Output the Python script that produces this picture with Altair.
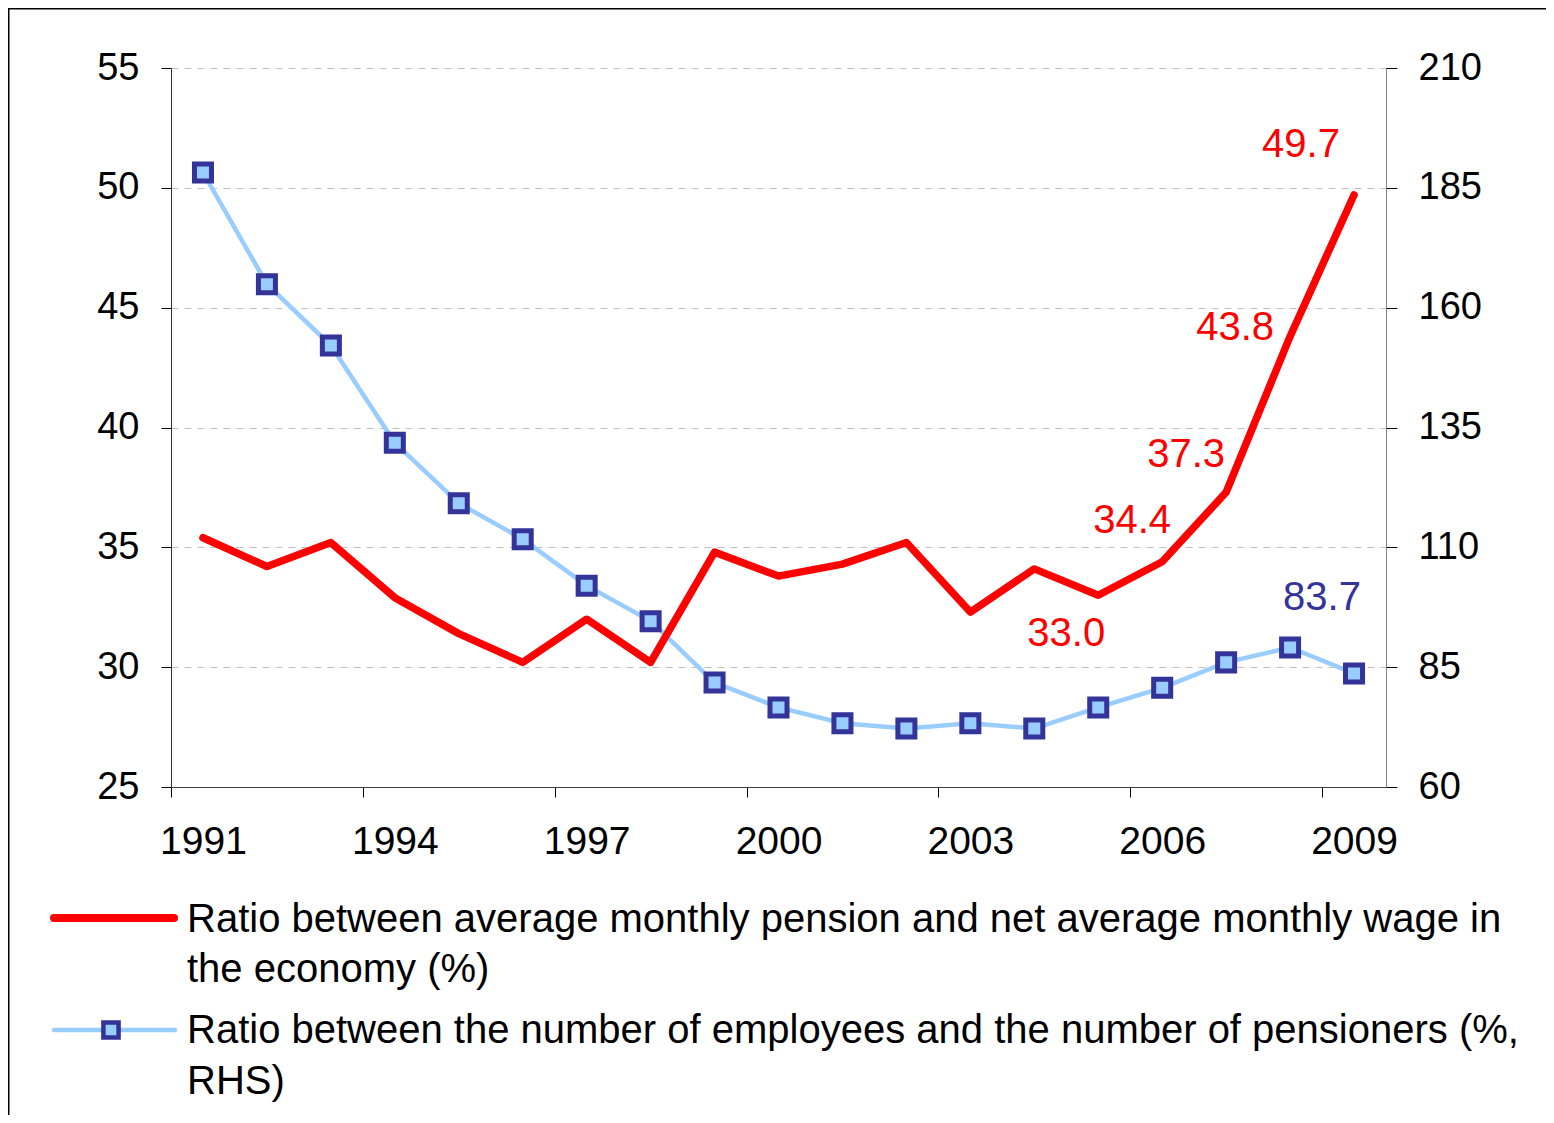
import altair as alt
import pandas as pd

# ---- data ----
years = list(range(1991, 2010))
pension_wage_ratio = [35.4, 34.2, 35.2, 32.9, 31.4, 30.2, 32.0, 30.2, 34.8, 33.8,
                      34.3, 35.2, 32.3, 34.1, 33.0, 34.4, 37.3, 43.8, 49.7]
employees_pensioners_ratio = [188.2, 164.9, 152.1, 131.8, 119.2, 111.7, 102.0, 94.6, 81.8, 76.6,
                              73.3, 72.2, 73.3, 72.2, 76.6, 80.7, 86.0, 89.1, 83.7]
red_label_years = [2005, 2006, 2007, 2008, 2009]
blue_label_years = [2009]
x_tick_years = [1991, 1994, 1997, 2000, 2003, 2006, 2009]
left_ticks = [25, 30, 35, 40, 45, 50, 55]
right_ticks = [60, 85, 110, 135, 160, 185, 210]
legend_red_text = ["Ratio between average monthly pension and net average monthly wage in",
                   "the economy (%)"]
legend_blue_text = ["Ratio between the number of employees and the number of pensioners  (%,",
                    "RHS)"]

# ---- styling ----
FONT = "Liberation Sans"
W, H = 1215, 719
PAD = {"left": 163, "top": 60, "right": 160, "bottom": 328}
RED = "#FF0000"
LIGHT_BLUE = "#99CCFF"
DARK_BLUE = "#333399"
# label offsets (dx, dy) in pixels relative to the data point
red_label_offsets = {2005: (-32, 51), 2006: (-30, -29), 2007: (-40, -25),
                     2008: (-55, 4), 2009: (-53, -38)}
blue_label_offsets = {2009: (-32, -63)}

df = pd.DataFrame({"year": years,
                   "pension": pension_wage_ratio,
                   "employees": employees_pensioners_ratio})

x_enc = alt.X(
    "year:Q",
    scale=alt.Scale(domain=[1990.5, 2009.5], nice=False, zero=False),
    axis=alt.Axis(values=x_tick_years, format="d", title=None, grid=False,
                  tickOffset=-32, labelOffset=32, tickSize=10, tickColor="black",
                  domainColor="#404040", labelFontSize=39, labelFont=FONT,
                  labelColor="black", labelPadding=25, labelFlush=False,
                  labelOverlap=False),
)

y_left = alt.Y(
    "pension:Q",
    scale=alt.Scale(domain=[25, 55], nice=False, zero=False),
    axis=alt.Axis(orient="left", values=left_ticks, format="d", title=None,
                  grid=True, gridColor="#C0C0C0", gridDash=[7, 6], gridWidth=1,
                  tickSize=10, tickColor="black", domainColor="#333333",
                  labelFontSize=38, labelFont=FONT, labelColor="black",
                  labelPadding=22),
)

y_right = alt.Y(
    "employees:Q",
    scale=alt.Scale(domain=[60, 210], nice=False, zero=False),
    axis=alt.Axis(orient="right", values=right_ticks, format="d", title=None,
                  grid=False, tickSize=11, tickColor="black", domainColor="#808080",
                  labelFontSize=38, labelFont=FONT, labelColor="black",
                  labelPadding=21),
)

base = alt.Chart(df)

red_line = base.mark_line(color=RED, strokeWidth=7.5, strokeCap="round",
                          strokeJoin="round").encode(x=x_enc, y=y_left)
red_labels = [
    base.transform_filter(alt.datum.year == yr).mark_text(
        color=RED, font=FONT, fontSize=40, align="center", baseline="alphabetic",
        dx=red_label_offsets[yr][0], dy=red_label_offsets[yr][1]
    ).encode(x=x_enc, y=y_left, text=alt.Text("pension:Q", format=".1f"))
    for yr in red_label_years
]

blue_line = base.mark_line(color=LIGHT_BLUE, strokeWidth=4.5).encode(x=x_enc, y=y_right)
blue_points = base.mark_point(shape="square", filled=True, fill=LIGHT_BLUE,
                              stroke=DARK_BLUE, strokeWidth=5, size=290,
                              opacity=1).encode(x=x_enc, y=y_right)
blue_labels = [
    base.transform_filter(alt.datum.year == yr).mark_text(
        color=DARK_BLUE, font=FONT, fontSize=40, align="center", baseline="alphabetic",
        dx=blue_label_offsets[yr][0], dy=blue_label_offsets[yr][1]
    ).encode(x=x_enc, y=y_right, text=alt.Text("employees:Q", format=".1f"))
    for yr in blue_label_years
]

left_group = alt.layer(red_line, *red_labels)
right_group = alt.layer(blue_line, blue_points, *blue_labels)

# ---- legend (below the plot) ----
one = alt.Chart(pd.DataFrame({"k": [0]}))
leg_red_line = one.mark_rule(color=RED, strokeWidth=8, strokeCap="round").encode(
    x=alt.value(-117), x2=alt.value(3), y=alt.value(850))
leg_red_text = one.mark_text(align="left", baseline="alphabetic", font=FONT,
                             fontSize=40, lineHeight=50, color="black").encode(
    x=alt.value(16), y=alt.value(864), text=alt.value(legend_red_text))
leg_blue_line = one.mark_rule(color=LIGHT_BLUE, strokeWidth=4.5, strokeCap="round").encode(
    x=alt.value(-117), x2=alt.value(4), y=alt.value(962))
leg_blue_pt = one.mark_point(shape="square", filled=True, fill=LIGHT_BLUE,
                             stroke=DARK_BLUE, strokeWidth=4.5, size=230,
                             opacity=1).encode(x=alt.value(-60), y=alt.value(962))
leg_blue_text = one.mark_text(align="left", baseline="alphabetic", font=FONT,
                              fontSize=40, lineHeight=51, color="black").encode(
    x=alt.value(16), y=alt.value(975), text=alt.value(legend_blue_text))

# ---- outer chart frame (top and left edges visible in the reference) ----
frame_top = one.mark_rule(color="black", strokeWidth=1.5).encode(
    x=alt.value(-PAD["left"]), x2=alt.value(W + PAD["right"]), y=alt.value(-PAD["top"] + 0.75))
frame_left = one.mark_rule(color="black", strokeWidth=1.5).encode(
    x=alt.value(-PAD["left"] + 0.75), y=alt.value(-PAD["top"]), y2=alt.value(H + PAD["bottom"]))

chart = alt.layer(
    right_group, left_group,
    leg_red_line, leg_red_text, leg_blue_line, leg_blue_pt, leg_blue_text,
    frame_top, frame_left,
).resolve_scale(y="independent").properties(
    width=W, height=H, padding=PAD,
    autosize=alt.AutoSizeParams(type="none"),
    background="white",
).configure_view(stroke=None)

chart.save("out.html", embed_options={"renderer": "svg", "actions": False})
